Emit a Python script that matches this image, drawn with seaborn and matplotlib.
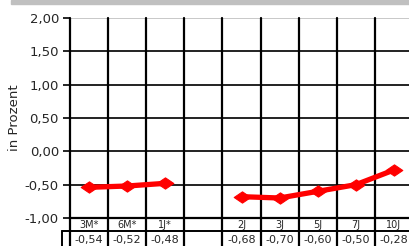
import numpy as np
import pandas as pd
import matplotlib.pyplot as plt
import matplotlib.patches as mpatches
from matplotlib.path import Path
import seaborn as sns

# ── Data ──────────────────────────────────────────────────────────────
categories = ['3M*', '6M*', '1J*', '', '2J', '3J', '5J', '7J', '10J']
values = [-0.54, -0.52, -0.48, np.nan, -0.68, -0.70, -0.60, -0.50, -0.28]
value_labels = ['-0,54', '-0,52', '-0,48', '', '-0,68', '-0,70', '-0,60', '-0,50', '-0,28']
segments = [0, 0, 0, -1, 1, 1, 1, 1, 1]
y_ticks = [-1.0, -0.5, 0.0, 0.5, 1.0, 1.5, 2.0]

df = pd.DataFrame({'pos': np.arange(len(categories)), 'value': values, 'segment': segments})
df = df.dropna()

sns.set_style('white')
plt.rcParams['font.family'] = ['DejaVu Sans']

W, H = 409, 246
fig = plt.figure(figsize=(W / 100, H / 100), dpi=100)
ax = fig.add_axes([70 / W, 28 / H, 343 / W, 200 / H])

# grey strip at the top
fig.patches.append(mpatches.Rectangle((11 / W, 1 - 4 / H), 1, 4 / H, transform=fig.transFigure,
                                      color='#c0c0c0', zorder=0))

# ── Grid ──────────────────────────────────────────────────────────────
for yv in y_ticks[1:-1]:
    ax.axhline(yv, color='#222222', lw=1.4, zorder=1)
ax.axhline(2.0, color='#c8c8c8', lw=1.4, zorder=1)

row1 = -1 - 13 / 200 * 3
row2 = -1 - 30 / 200 * 3
for k in range(len(categories) + 1):
    ax.plot([k - 0.5, k - 0.5], [2.0, row2], color='black', lw=1.6, clip_on=False, zorder=2)

# ── Line ──────────────────────────────────────────────────────────────
wide_diamond = Path([(-1, 0), (0, 0.68), (1, 0), (0, -0.68), (-1, 0)],
                    [Path.MOVETO, Path.LINETO, Path.LINETO, Path.LINETO, Path.CLOSEPOLY])
sns.lineplot(data=df, x='pos', y='value', units='segment', estimator=None, color='#ff0000',
             lw=3.8, marker=wide_diamond, markersize=12, markeredgecolor='#ff0000', ax=ax, zorder=3)

ax.set_xlim(-0.5, len(categories) - 0.5)
ax.set_ylim(-1.0, 2.0)
ax.set_yticks(y_ticks)
ax.set_yticklabels([f'{t:.2f}'.replace('.', ',') for t in y_ticks], fontsize=9.5)
ax.set_xticks([])
ax.set_xlabel('')
ax.set_ylabel('in Prozent', fontsize=9.5, labelpad=3)
ax.tick_params(axis='y', length=5, width=1.2, color='black', left=True, pad=3)
for s in ['top', 'right']:
    ax.spines[s].set_visible(False)
ax.spines['left'].set_visible(False)
ax.spines['bottom'].set_color('black')
ax.spines['bottom'].set_linewidth(1.6)

# ── Data table below the axis ────────────────────────────────────────
x_head = -0.5 - 8 / 38.1
ax.plot([x_head, len(categories) - 0.5], [row1, row1], color='black', lw=1.4, clip_on=False)
ax.plot([x_head, x_head], [row1, row2], color='black', lw=1.4, clip_on=False)
for i, (cat, lab) in enumerate(zip(categories, value_labels)):
    ax.text(i, (-1 + row1) / 2, cat, ha='center', va='center', fontsize=7, clip_on=False)
    ax.text(i, -1 - 21.5 / 200 * 3, lab, ha='center', va='center', fontsize=8, clip_on=False)

fig.savefig('out.png', dpi=100)
